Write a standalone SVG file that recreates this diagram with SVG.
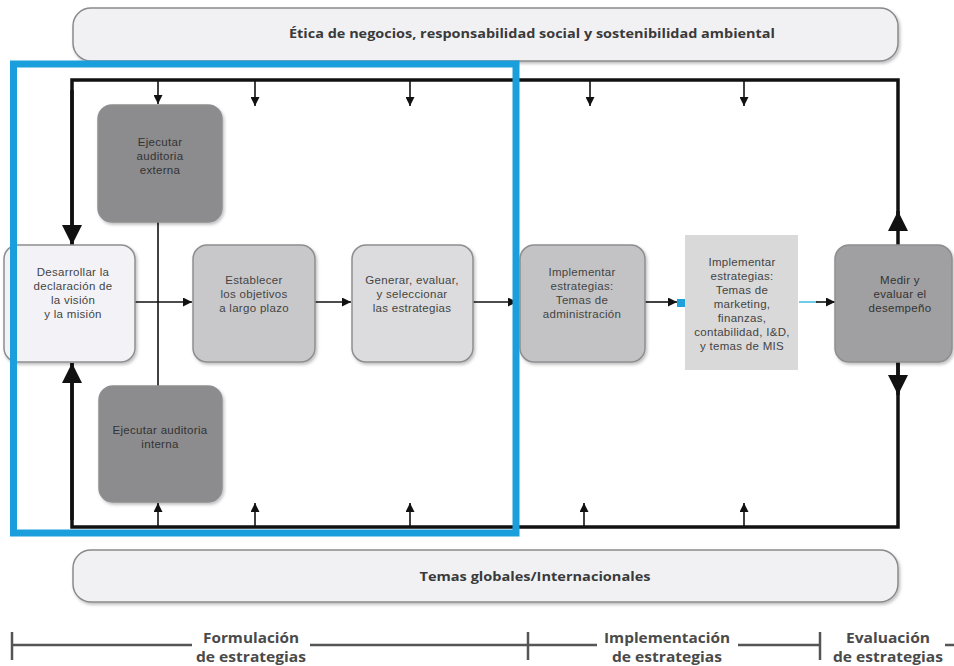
<svg xmlns="http://www.w3.org/2000/svg" width="954" height="666" viewBox="0 0 954 666">
  <style>
    .banner { fill: #f1f1f3; stroke: #8a8a8c; stroke-width: 1.5; }
    .btext { font-family: "Open Sans", "Liberation Sans", sans-serif; font-weight: bold; font-size: 12px; fill: #3a3a3a; text-anchor: middle; }
    .node { stroke: #8e8e90; stroke-width: 1.5; }
    .ntext { font-family: "Liberation Sans", Arial, sans-serif; font-size: 11.5px; fill: #444; text-anchor: middle; letter-spacing: 0.3px; }
    .dark { fill: #333; }
    .loop { fill: none; stroke: #111; stroke-width: 3.5; }
    .thin { fill: none; stroke: #111; stroke-width: 1.6; }
    .tl { fill: none; stroke: #555; stroke-width: 2.5; }
    .ttext { font-family: "Open Sans", "Liberation Sans", sans-serif; font-weight: bold; font-size: 14px; fill: #4a4a4a; text-anchor: middle; }
  </style>
  <defs>
    <marker id="small" viewBox="0 0 10 10" refX="10" refY="5" markerWidth="9" markerHeight="9" markerUnits="userSpaceOnUse" orient="auto">
      <path d="M0,0 L10,5 L0,10 z" fill="#111"/>
    </marker>
    <marker id="big" viewBox="0 0 10 10" refX="10" refY="5" markerWidth="20" markerHeight="20" markerUnits="userSpaceOnUse" orient="auto">
      <path d="M0,0 L10,5 L0,10 z" fill="#111"/>
    </marker>
    <filter id="shadow" x="-10%" y="-10%" width="130%" height="130%">
      <feDropShadow dx="1.5" dy="2" stdDeviation="1.5" flood-color="#000" flood-opacity="0.25"/>
    </filter>
  </defs>

  <rect width="954" height="666" fill="#ffffff"/>

  <!-- top and bottom banners -->
  <g id="banner-etica">
    <rect class="banner" x="73" y="8" width="825" height="53" rx="18" filter="url(#shadow)"/>
    <text class="btext" x="532" y="38" textLength="486" lengthAdjust="spacingAndGlyphs">Ética de negocios, responsabilidad social y sostenibilidad ambiental</text>
  </g>
  <g id="banner-global">
    <rect class="banner" x="73" y="550" width="825" height="52" rx="18" filter="url(#shadow)"/>
    <text class="btext" x="535" y="581" font-size="13" textLength="231" lengthAdjust="spacingAndGlyphs">Temas globales/Internacionales</text>
  </g>

  <!-- connectors -->
  <g id="connectors">
    <!-- feedback loop -->
    <path class="loop" d="M72,245 L72,80 L898,80 L898,230"/>
    <path class="loop" d="M72,363 L72,527 L898,527 L898,362"/>
    <line class="loop" x1="72" y1="90" x2="72" y2="245" marker-end="url(#big)"/>
    <line class="loop" x1="72" y1="520" x2="72" y2="363" marker-end="url(#big)"/>
    <line class="loop" x1="898" y1="245" x2="898" y2="211" marker-end="url(#big)"/>
    <line class="loop" x1="898" y1="362" x2="898" y2="395" marker-end="url(#big)"/>

    <!-- inputs from the top line -->
    <line class="thin" x1="158" y1="81" x2="158" y2="104" marker-end="url(#small)"/>
    <line class="thin" x1="255" y1="81" x2="255" y2="106" marker-end="url(#small)"/>
    <line class="thin" x1="410" y1="81" x2="410" y2="106" marker-end="url(#small)"/>
    <line class="thin" x1="590" y1="81" x2="590" y2="106" marker-end="url(#small)"/>
    <line class="thin" x1="744" y1="81" x2="744" y2="106" marker-end="url(#small)"/>

    <!-- inputs from the bottom line -->
    <line class="thin" x1="158" y1="526" x2="158" y2="503" marker-end="url(#small)"/>
    <line class="thin" x1="255" y1="526" x2="255" y2="503" marker-end="url(#small)"/>
    <line class="thin" x1="410" y1="526" x2="410" y2="503" marker-end="url(#small)"/>
    <line class="thin" x1="584" y1="526" x2="584" y2="503" marker-end="url(#small)"/>
    <line class="thin" x1="744" y1="526" x2="744" y2="503" marker-end="url(#small)"/>

    <!-- audits link -->
    <line class="thin" x1="158" y1="222" x2="158" y2="386"/>

    <!-- main flow -->
    <line class="thin" x1="135" y1="302" x2="192" y2="302" marker-end="url(#small)"/>
    <line class="thin" x1="315" y1="302" x2="351" y2="302" marker-end="url(#small)"/>
    <line class="thin" x1="473" y1="302" x2="517" y2="302" marker-end="url(#small)"/>
    <line class="thin" x1="645" y1="302" x2="677" y2="302" marker-end="url(#small)"/>
    <rect x="677" y="299" width="8" height="8" fill="#1ea0d8"/>
    <line x1="799" y1="302" x2="817" y2="302" stroke="#5bc8e8" stroke-width="1.8"/>
    <line class="thin" x1="816" y1="302" x2="835" y2="302" marker-end="url(#small)"/>
  </g>

  <!-- nodes -->
  <g id="node-desarrollar">
    <rect class="node" x="4" y="245" width="131" height="117" rx="14" fill="#f3f3f7" filter="url(#shadow)"/>
    <text class="ntext" x="73" y="276">Desarrollar la</text>
    <text class="ntext" x="73" y="290">declaración de</text>
    <text class="ntext" x="73" y="304">la visión</text>
    <text class="ntext" x="73" y="318">y la misión</text>
  </g>
  <g id="node-auditoria-externa">
    <rect class="node" x="98" y="105" width="124" height="117" rx="14" fill="#8c8c8e" filter="url(#shadow)"/>
    <text class="ntext dark" x="160" y="146">Ejecutar</text>
    <text class="ntext dark" x="160" y="160">auditoria</text>
    <text class="ntext dark" x="160" y="174">externa</text>
  </g>
  <g id="node-auditoria-interna">
    <rect class="node" x="99" y="386" width="123" height="116" rx="14" fill="#8c8c8e" filter="url(#shadow)"/>
    <text class="ntext dark" x="160" y="434">Ejecutar auditoria</text>
    <text class="ntext dark" x="160" y="448">interna</text>
  </g>
  <g id="node-objetivos">
    <rect class="node" x="193" y="245" width="122" height="117" rx="14" fill="#c8c8ca" filter="url(#shadow)"/>
    <text class="ntext" x="254" y="284">Establecer</text>
    <text class="ntext" x="254" y="298">los objetivos</text>
    <text class="ntext" x="254" y="312">a largo plazo</text>
  </g>
  <g id="node-estrategias">
    <rect class="node" x="352" y="245" width="121" height="117" rx="14" fill="#dcdcde" filter="url(#shadow)"/>
    <text class="ntext" x="412" y="284">Generar, evaluar,</text>
    <text class="ntext" x="412" y="298">y seleccionar</text>
    <text class="ntext" x="412" y="312">las estrategias</text>
  </g>
  <g id="node-implementar-admin">
    <rect class="node" x="520" y="245" width="125" height="117" rx="14" fill="#c3c3c5" filter="url(#shadow)"/>
    <text class="ntext" x="582" y="276">Implementar</text>
    <text class="ntext" x="582" y="290">estrategias:</text>
    <text class="ntext" x="582" y="304">Temas de</text>
    <text class="ntext" x="582" y="318">administración</text>
  </g>
  <g id="node-implementar-funciones">
    <rect x="685" y="235" width="113" height="135" fill="#d9d9d9"/>
    <text class="ntext" x="742" y="266" font-size="11">Implementar</text>
    <text class="ntext" x="742" y="280" font-size="11">estrategias:</text>
    <text class="ntext" x="742" y="294" font-size="11">Temas de</text>
    <text class="ntext" x="742" y="308" font-size="11">marketing,</text>
    <text class="ntext" x="742" y="322" font-size="11">finanzas,</text>
    <text class="ntext" x="742" y="336" font-size="11">contabilidad, I&amp;D,</text>
    <text class="ntext" x="742" y="350" font-size="11">y temas de MIS</text>
  </g>
  <g id="node-medir">
    <rect class="node" x="835" y="245" width="117" height="117" rx="14" fill="#a0a0a2" filter="url(#shadow)"/>
    <text class="ntext dark" x="900" y="284">Medir y</text>
    <text class="ntext dark" x="900" y="298">evaluar el</text>
    <text class="ntext dark" x="900" y="312">desempeño</text>
  </g>

  <!-- formulation highlight frame -->
  <rect x="13.5" y="64" width="502.5" height="469" fill="none" stroke="#1a9fdc" stroke-width="7"/>

  <!-- stage timeline -->
  <g id="timeline">
    <line class="tl" x1="12" y1="645" x2="192" y2="645"/>
    <line class="tl" x1="310" y1="645" x2="597" y2="645"/>
    <line class="tl" x1="738" y1="645" x2="820" y2="645"/>
    <line class="tl" x1="945" y1="645" x2="954" y2="645"/>
    <line class="tl" x1="12" y1="632" x2="12" y2="660"/>
    <line class="tl" x1="528" y1="632" x2="528" y2="660" stroke-width="2"/>
    <line class="tl" x1="820" y1="632" x2="820" y2="660" stroke-width="2"/>
    <text class="ttext" x="251" y="643" textLength="96" lengthAdjust="spacingAndGlyphs">Formulación</text>
    <text class="ttext" x="251" y="662" textLength="110" lengthAdjust="spacingAndGlyphs">de estrategias</text>
    <text class="ttext" x="667" y="643" textLength="126" lengthAdjust="spacingAndGlyphs">Implementación</text>
    <text class="ttext" x="667" y="662" textLength="110" lengthAdjust="spacingAndGlyphs">de estrategias</text>
    <text class="ttext" x="888" y="643" textLength="84" lengthAdjust="spacingAndGlyphs">Evaluación</text>
    <text class="ttext" x="888" y="662" textLength="110" lengthAdjust="spacingAndGlyphs">de estrategias</text>
  </g>
</svg>
